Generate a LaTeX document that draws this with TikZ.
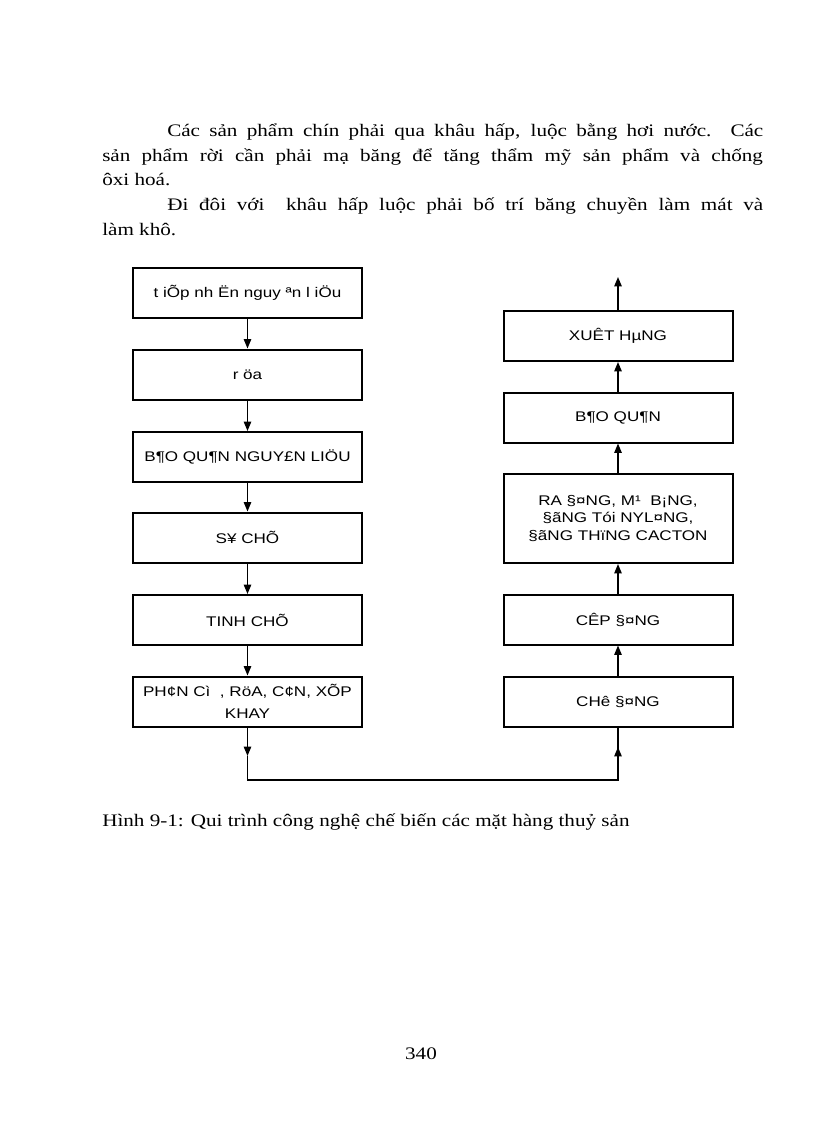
\documentclass[tikz,border=0pt]{standalone}
\usepackage{fontspec}
\setmainfont[FakeStretch=1.2]{Liberation Serif}
\newfontfamily\boxfont[FakeStretch=1.22]{Liberation Sans}
\usetikzlibrary{arrows.meta}
\begin{document}
\begin{tikzpicture}[x=0.75pt,y=-0.75pt,
  stepbox/.style={draw=black,line width=1.5pt,rectangle,minimum width=171.75pt,minimum height=37.5pt,inner sep=2pt,align=center,font=\boxfont\fontsize{10.5}{14.5}\selectfont,text=black},
  conn/.style={line width=1.1pt,draw=black},
  arr/.style={conn,-{Triangle[length=7pt,width=5.5pt]}},
  body/.style={anchor=base west,inner sep=0pt,font=\fontsize{13.2}{16}\selectfont}]
\useasboundingbox[fill=white] (0,0) rectangle (816,1123);
% paragraph
\node[body] (p1) at (167,136.5) {\makebox[447pt][s]{Các sản phẩm chín phải qua khâu hấp, luộc bằng hơi nước. Các}};
\node[body] (p2) at (102,161.5) {\makebox[495.5pt][s]{sản phẩm rời cần phải mạ băng để tăng thẩm mỹ sản phẩm và chống}};
\node[body] (p3) at (102,186) {ôxi hoá.};
\node[body] (p4) at (167,210.5) {\makebox[447pt][s]{Đi đôi với\ \ khâu hấp luộc phải bố trí băng chuyền làm mát và}};
\node[body] (p5) at (102,235) {làm khô.};
% left column
\node[stepbox] (L1) at (247.5,293) {t iÕp nh Ën nguy ªn l iÖu};
\node[stepbox] (L2) at (247.5,374.5) {r öa};
\node[stepbox] (L3) at (247.5,457) {B¶O QU¶N NGUY£N LIÖU};
\node[stepbox] (L4) at (247.5,537.5) {S¥ CHÕ};
\node[stepbox] (L5) at (247.5,620) {TINH CHÕ};
\node[stepbox,font=\boxfont\fontsize{10.5}{17}\selectfont] (L6) at (247.5,701.5) {PH¢N Cì\ \ , RöA, C¢N, XÕP\\KHAY};
% right column
\node[stepbox] (R1) at (618,702) {CHê\ §¤NG};
\node[stepbox] (R2) at (618,619.5) {CÊP §¤NG};
\node[stepbox,minimum height=66.75pt,font=\boxfont\fontsize{10.5}{13.2}\selectfont] (R3) at (618,518.5) {RA §¤NG, M¹\ \ B¡NG,\\§ãNG Tói NYL¤NG,\\§ãNG THïNG CACTON};
\node[stepbox] (R4) at (618,417.5) {B¶O QU¶N};
\node[stepbox] (R5) at (618,336) {XUÊT HµNG};
% connectors
\draw[arr] (L1) -- (L2);
\draw[arr] (L2) -- (L3);
\draw[arr] (L3) -- (L4);
\draw[arr] (L4) -- (L5);
\draw[arr] (L5) -- (L6);
\coordinate (a1) at (247.5,756);
\coordinate (c1) at (247.5,780);
\coordinate (c2) at (618,780);
\coordinate (a2) at (618,747);
\draw[arr] (L6.south) -- (a1);
\draw[conn] (a1) -- (c1) -- (c2) -- (a2);
\draw[arr] (c2) -- (a2);
\draw[conn] (a2) -- (R1.south);
\draw[arr] (R1) -- (R2);
\draw[arr] (R2) -- (R3);
\draw[arr] (R3) -- (R4);
\draw[arr] (R4) -- (R5);
\coordinate (top) at (618,277);
\draw[arr] (R5.north) -- (top);
% caption and page number
\node[body] (cap) at (102,826) {Hình 9-1: Qui trình công nghệ chế biến các mặt hàng thuỷ sản};
\node[body,anchor=base] (pg) at (421,1059) {340};
\end{tikzpicture}
\end{document}
